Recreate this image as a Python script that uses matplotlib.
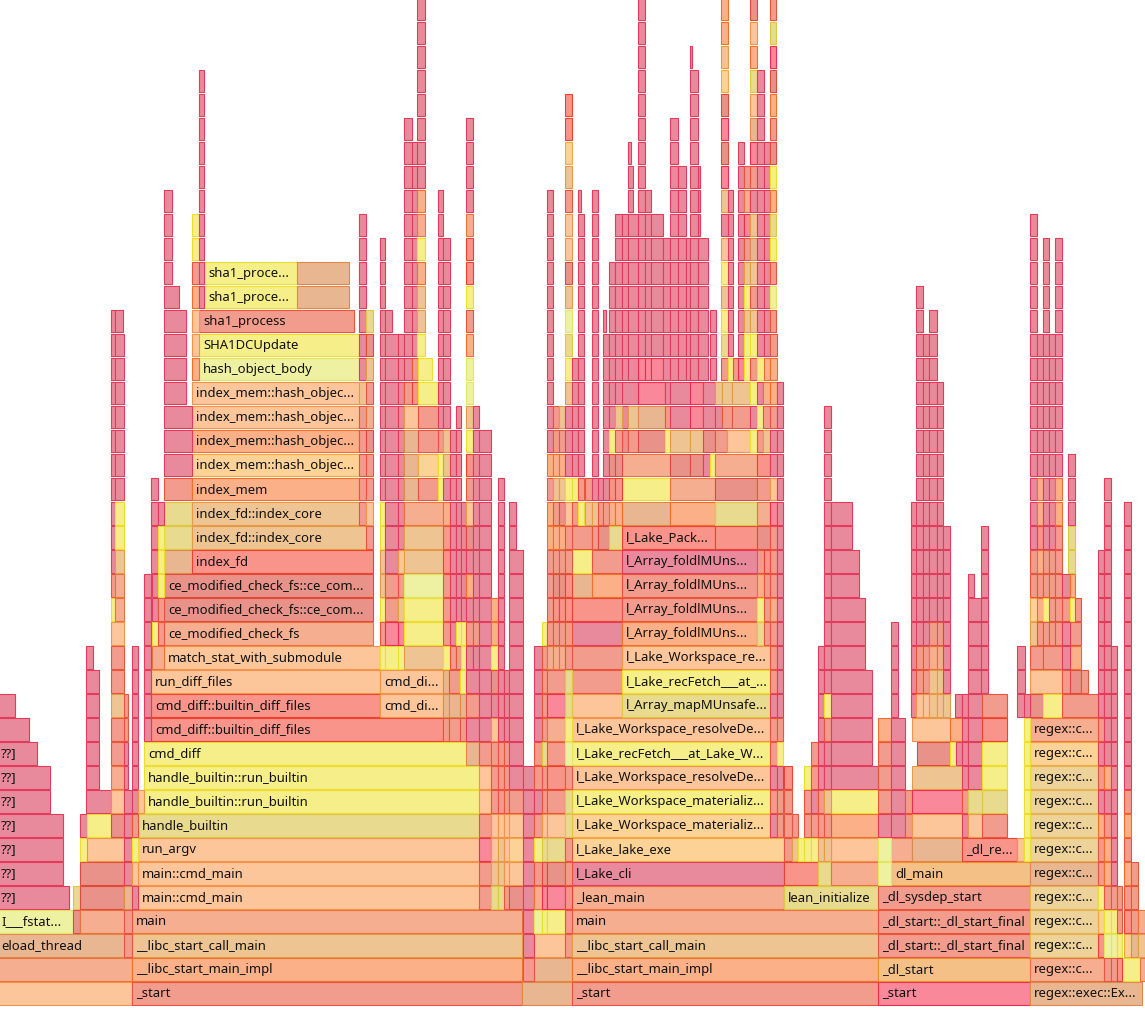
import colorsys
import matplotlib
matplotlib.use("Agg")
from matplotlib import pyplot as plt
from matplotlib import colors as mcolors

# flame graph, zoomed view (x in sample units, depth = stack level)

palette = {
    "p": "#E98A9C", "h": "#F8889A", "s": "#F29C8E", "S": "#F5AE90",
    "r": "#F9948A", "d": "#E8928A", "o": "#FBB088", "O": "#F5C086",
    "c": "#FCC59A", "l": "#FCD296", "t": "#EFC493", "T": "#E9B692",
    "L": "#EDD29A", "y": "#F6EE88", "Y": "#EEF0A2", "k": "#E8DA8E",
}

# (depth, start, end, colour, name)
frames = [
    # threads cut off at the left of the view
    (0, -8, 132, "c", ""),
    (1, -8, 132, "S", ""),
    (2, -8, 124, "T", "eload_thread"),
    (3, -6, 73, "Y", "I___fstat..."),
    (3, 73, 80, "d", ""), (3, 80, 124, "S", ""),
    (4, -8, 69, "p", "??]"), (4, 73, 80, "k", ""), (4, 80, 124, "d", ""),
    (5, -8, 63, "p", "??]"), (5, 80, 124, "d", ""),
    (6, -8, 63, "p", "??]"), (6, 80, 87, "y", ""), (6, 87, 124, "c", ""),
    (7, -8, 63, "p", "??]"), (7, 80, 87, "p", ""), (7, 87, 111, "y", ""), (7, 111, 124, "d", ""),
    (8, -8, 50, "p", "??]"), (8, 86, 111, "p", ""), (8, 111, 124, "c", ""),
    (9, -8, 50, "p", "??]"),
    (10, -8, 37, "p", "??]"),
    (11, -8, 29, "p", ""),
    (12, -8, 15, "p", ""),
    # git diff
    (0, 132, 522, "s", "_start"),
    (1, 132, 522, "o", "__libc_start_main_impl"),
    (2, 132, 522, "t", "__libc_start_call_main"),
    (3, 132, 522, "S", "main"),
    (4, 138, 479, "c", "main::cmd_main"),
    (5, 138, 479, "c", "main::cmd_main"),
    (6, 138, 479, "c", "run_argv"),
    (7, 138, 479, "k", "handle_builtin"),
    (8, 144, 479, "y", "handle_builtin::run_builtin"),
    (9, 144, 479, "y", "handle_builtin::run_builtin"),
    (10, 144, 466, "y", "cmd_diff"),
    (11, 151, 443, "r", "cmd_diff::builtin_diff_files"),
    (12, 151, 380, "r", "cmd_diff::builtin_diff_files"),
    (12, 380, 443, "c", "cmd_di..."),
    (13, 151, 380, "c", "run_diff_files"),
    (13, 380, 443, "c", "cmd_di..."),
    (14, 164, 380, "c", "match_stat_with_submodule"),
    (15, 164, 373, "S", "ce_modified_check_fs"),
    (16, 164, 373, "d", "ce_modified_check_fs::ce_com..."),
    (17, 164, 373, "d", "ce_modified_check_fs::ce_com..."),
    (18, 164, 192, "T", ""), (18, 192, 373, "r", "index_fd"),
    (19, 164, 192, "k", ""), (19, 192, 366, "t", "index_fd::index_core"),
    (20, 164, 192, "k", ""), (20, 192, 359, "t", "index_fd::index_core"),
    (21, 164, 192, "s", ""), (21, 192, 359, "o", "index_mem"),
    (22, 192, 359, "l", "index_mem::hash_objec..."),
    (23, 192, 359, "o", "index_mem::hash_objec..."),
    (24, 192, 359, "c", "index_mem::hash_objec..."),
    (25, 192, 359, "c", "index_mem::hash_objec..."),
    (26, 199, 359, "Y", "hash_object_body"),
    (27, 199, 359, "y", "SHA1DCUpdate"),
    (28, 199, 354, "s", "sha1_process"),
    (29, 204, 297, "y", "sha1_proce..."), (29, 297, 349, "T", ""),
    (30, 204, 297, "y", "sha1_proce..."), (30, 297, 349, "T", ""),
    # lean / lake
    (0, 522, 572, "T", ""),
    (0, 572, 878, "s", "_start"),
    (1, 534, 572, "T", ""),
    (1, 572, 878, "o", "__libc_start_main_impl"),
    (2, 534, 565, "c", ""), (2, 565, 572, "s", ""),
    (2, 572, 878, "t", "__libc_start_call_main"),
    (3, 572, 878, "S", "main"),
    (4, 572, 784, "S", "_lean_main"),
    (4, 784, 878, "k", "lean_initialize"),
    (5, 572, 784, "p", "l_Lake_cli"),
    (5, 784, 818, "r", ""), (5, 818, 831, "k", ""), (5, 831, 878, "S", ""),
    (6, 572, 784, "l", "l_Lake_lake_exe"), (6, 831, 878, "c", ""),
    (7, 572, 770, "l", "l_Lake_Workspace_materializ..."), (7, 831, 878, "o", ""),
    (8, 572, 770, "y", "l_Lake_Workspace_materializ..."), (8, 831, 878, "y", ""),
    (9, 572, 770, "c", "l_Lake_Workspace_resolveDe..."),
    (10, 572, 770, "y", "l_Lake_recFetch___at_Lake_W..."),
    (11, 572, 770, "c", "l_Lake_Workspace_resolveDe..."),
    (12, 572, 622, "c", ""), (12, 622, 770, "k", "l_Array_mapMUnsafe..."),
    (13, 572, 622, "s", ""), (13, 622, 770, "y", "l_Lake_recFetch___at_..."),
    (14, 572, 622, "s", ""), (14, 622, 770, "c", "l_Lake_Workspace_re..."),
    (15, 572, 622, "p", ""), (15, 622, 757, "o", "l_Array_foldlMUns..."),
    (16, 572, 622, "r", ""), (16, 622, 757, "s", "l_Array_foldlMUns..."),
    (17, 572, 592, "T", ""), (17, 592, 622, "o", ""), (17, 622, 757, "s", "l_Array_foldlMUns..."),
    (18, 572, 592, "y", ""), (18, 592, 622, "s", ""), (18, 622, 757, "p", "l_Array_foldlMUns..."),
    (19, 572, 592, "s", ""), (19, 592, 598, "s", ""), (19, 598, 609, "d", ""), (19, 609, 622, "k", ""),
    (19, 622, 715, "r", "l_Lake_Pack..."), (19, 715, 757, "r", ""), (19, 757, 770, "d", ""),
    (20, 622, 670, "T", ""), (20, 670, 715, "o", ""), (20, 715, 757, "k", ""), (20, 757, 770, "S", ""),
    (21, 622, 670, "y", ""), (21, 670, 715, "S", ""), (21, 715, 757, "d", ""), (21, 757, 770, "s", ""),
    (22, 622, 670, "S", ""), (22, 670, 690, "d", ""), (22, 690, 703, "d", ""), (22, 703, 710, "p", ""),
    (22, 710, 715, "y", ""), (22, 715, 757, "S", ""), (22, 757, 770, "r", ""),
    (23, 622, 628, "d", ""), (23, 628, 638, "s", ""), (23, 638, 665, "d", ""), (23, 665, 670, "y", ""),
    (23, 670, 690, "t", ""), (23, 690, 703, "t", ""), (23, 703, 715, "d", ""), (23, 715, 727, "s", ""),
    (23, 727, 750, "c", ""), (23, 750, 757, "y", ""), (23, 757, 763, "s", ""), (23, 763, 770, "t", ""),
    (24, 622, 628, "p", ""), (24, 628, 638, "t", ""), (24, 638, 665, "T", ""), (24, 665, 670, "s", ""),
    (24, 670, 690, "p", ""), (24, 690, 703, "h", ""), (24, 703, 715, "p", ""), (24, 715, 722, "p", ""),
    (24, 722, 732, "s", ""), (24, 732, 750, "s", ""), (24, 750, 757, "p", ""), (24, 757, 763, "y", ""),
    (24, 763, 770, "s", ""),
    (25, 622, 638, "p", ""), (25, 638, 665, "h", ""), (25, 665, 670, "p", ""), (25, 670, 690, "p", ""),
    (25, 690, 703, "h", ""), (25, 703, 715, "p", ""), (25, 715, 722, "t", ""), (25, 722, 732, "t", ""),
    (25, 732, 750, "t", ""), (25, 750, 757, "y", ""), (25, 757, 763, "p", ""), (25, 763, 770, "o", ""),
    # dynamic loader
    (0, 878, 1030, "h", "_start"),
    (1, 878, 1030, "O", "_dl_start"),
    (2, 878, 1030, "s", "_dl_start::_dl_start_final"),
    (3, 878, 1030, "s", "_dl_start::_dl_start_final"),
    (4, 878, 1030, "s", "_dl_sysdep_start"),
    (5, 891, 1030, "O", "dl_main"),
    (6, 891, 912, "S", ""), (6, 912, 962, "T", ""), (6, 962, 1017, "r", "_dl_re..."),
    # regex
    (0, 1030, 1142, "T", "regex::exec::Ex..."),
    (1, 1030, 1104, "S", "regex::c..."),
    (2, 1030, 1098, "L", "regex::c..."),
    (3, 1030, 1098, "L", "regex::c..."),
    (4, 1030, 1098, "L", "regex::c..."),
    (5, 1030, 1098, "T", "regex::c..."),
    (6, 1030, 1098, "L", "regex::c..."),
    (7, 1030, 1098, "L", "regex::c..."),
    (8, 1030, 1098, "L", "regex::c..."),
    (9, 1030, 1098, "L", "regex::c..."),
    (10, 1030, 1098, "l", "regex::c..."),
    (11, 1030, 1098, "S", "regex::c..."),
    (12, 1030, 1043, "d", ""), (12, 1043, 1062, "y", ""), (12, 1062, 1098, "s", ""),
    (13, 1030, 1062, "c", ""), (13, 1062, 1070, "s", ""), (13, 1070, 1081, "d", ""), (13, 1081, 1088, "s", ""),
    (14, 1030, 1043, "s", ""), (14, 1043, 1062, "s", ""), (14, 1070, 1081, "o", ""),
    (15, 1070, 1081, "s", ""),
    (1, 1122, 1140, "y", ""), (1, 1140, 1145, "S", ""),
]

# narrow stacks: (start, end, first depth, colour of each level going up)
stacks = [
    (86, 99, 9, "ppppp"), (86, 93, 14, "p"),
    (111, 124, 9, "Ssstssc"),
    (111, 115, 16, "ys" + "p" * 11),
    (115, 124, 16, "SStyy" + "p" * 7), (115, 123, 28, "p"),
    (124, 132, 2, "ssTpppp"), (124, 128, 9, "ppss"),
    (132, 138, 4, "pcys" + "p" * 7), (138, 144, 8, "c"),
    (144, 151, 11, "p" * 7), (151, 158, 18, "pppp"),
    (152, 164, 14, "S"), (152, 158, 15, "ypp"), (158, 164, 15, "ssyyyp"),
    (164, 192, 22, "ppp"), (164, 186, 25, "pppp"), (164, 179, 29, "p"), (164, 172, 30, "pppp"),
    (192, 199, 26, "occosyy"), (199, 204, 29, "p" * 10),
    (359, 366, 20, "ssssst" + "p" * 7), (366, 373, 19, "scssdSstdk"),
    (380, 385, 14, "ysyttyy" + "p" * 11),
    (385, 398, 14, "yhss" + "p" * 10), (385, 392, 28, "p"),
    (398, 404, 14, "yhtsc" + "p" * 9),
    (404, 443, 14, "tyyYttS"), (404, 418, 21, "TTTc"),
    (404, 412, 25, "s" + "p" * 11), (412, 418, 25, "rs" + "p" * 9),
    (418, 438, 21, "slssy"), (418, 432, 26, "y"),
    (417, 425, 27, "yttoySo" + "p" * 8),
    (438, 443, 21, "yys" + "p" * 10),
    (443, 449, 11, "sTT"), (449, 460, 11, "sTs"), (460, 466, 11, "sTy"),
    (443, 450, 14, "ysssrsopttpp" + "p" * 6),
    (450, 456, 14, "s" + "p" * 9), (456, 461, 14, "sy" + "p" * 9), (461, 466, 14, "yyppppp"),
    (466, 479, 10, "Tpsp"),
    (466, 473, 14, "pspopdcsrytYYosyrrSpppp"), (473, 479, 14, "ps" + "p" * 9),
    (479, 491, 4, "sshsccsppp"), (479, 491, 14, "p" * 10),
    (491, 498, 4, "ktccssscpdyoo"),
    (498, 504, 4, "kttcsss" + "p" * 11),
    (504, 509, 4, "scccsssppp"),
    (509, 523, 4, "dclcs" + "p" * 10), (509, 516, 19, "pp"),
    (523, 534, 1, "spppppppp"),
    (534, 542, 3, "YSsyspsspppp"),
    (542, 547, 3, "yhdkcsskssssy"),
    (547, 565, 3, "yhdkcsrsShs"),
    (565, 572, 3, "srsskksYykk"),
    (547, 553, 14, "Sssssoosoppp" + "p" * 8),
    (553, 559, 14, "Ssrdsostoss"), (559, 565, 14, "Ssrdsodtost"),
    (565, 572, 14, "ssrrsscypppty" + "kYtdccstlrr"),
    (572, 578, 20, "syppppp"),
    (578, 584, 20, "ys" + "p" * 11), (578, 581, 33, "p"),
    (585, 592, 20, "ts"),
    (592, 598, 20, "t" + "p" * 13),
    (598, 603, 20, "sp"),
    (603, 609, 20, "s" + "p" * 7), (603, 606, 28, "p"),
    (609, 615, 20, "ordyppppppp"),
    (615, 622, 20, "ordstp" + "p" * 7),
    (622, 628, 26, "p" * 7), (628, 638, 26, "p" * 7), (628, 633, 33, "pp"), (628, 631, 35, "p"),
    (638, 645, 26, "h" + "p" * 15), (645, 651, 26, "h" + "p" * 7), (651, 663, 26, "h" + "p" * 6),
    (663, 670, 26, "p" * 6), (670, 678, 26, "p" * 11), (678, 686, 26, "p" * 9),
    (686, 690, 26, "p" * 6), (690, 698, 26, "p" * 13), (690, 692, 39, "p"),
    (698, 708, 26, "p" * 6), (698, 700, 32, "ppp"), (710, 716, 26, "ppp"),
    (721, 728, 26, "s" + "kytycpthdhdltoo"),
    (728, 733, 26, "y" + "p" * 7), (733, 738, 26, "s"),
    (738, 744, 26, "h" + "p" * 9), (744, 750, 26, "yytytshSs"),
    (750, 757, 26, "s" + "ytstTtpshTckocd"),
    (757, 764, 15, "kyos"), (764, 770, 15, "sssr"),
    (757, 764, 26, "y" + "p" * 12), (764, 770, 26, "op" + "p" * 8),
    (770, 777, 7, "pspsspsssSssshcppsoos"), (770, 776, 28, "sYsykoydsodhks"),
    (777, 783, 7, "sspys" + "p" * 14),
    (784, 792, 6, "sssr"), (792, 798, 6, "ts"), (798, 804, 6, "y"),
    (804, 811, 6, "yssy"), (811, 818, 6, "yspss"),
    (818, 824, 6, "tss" + "p" * 6), (824, 831, 6, "tstppsy" + "p" * 12),
    (831, 878, 9, "p"), (831, 872, 10, "pppp"), (831, 865, 14, "ppp"),
    (831, 859, 17, "pp"), (831, 852, 19, "pp"),
    (878, 891, 5, "YYpssso"),
    (891, 905, 7, "ppppp"), (891, 898, 12, "pppp"), (905, 912, 7, "ss"),
    (912, 962, 7, "cht"),
    (917, 950, 10, "d"), (950, 956, 10, "y"), (956, 962, 10, "p"),
    (912, 950, 11, "c"), (950, 962, 11, "o"),
    (911, 917, 12, "p" * 9),
    (916, 923, 12, "css" + "p" * 15), (923, 929, 12, "css" + "p" * 13),
    (929, 937, 12, "ttSs" + "p" * 13), (937, 943, 12, "ttSs" + "p" * 10),
    (943, 950, 12, "t" + "p" * 7), (955, 962, 12, "p"),
    (962, 968, 7, "pspppp"),
    (968, 982, 7, "ck" + "p" * 8), (968, 974, 17, "p"),
    (982, 1007, 7, "skyyrs"), (981, 988, 13, "p" * 7),
    (1017, 1024, 6, "c"), (1017, 1025, 12, "ppp"), (1024, 1030, 6, "yyyyyyp"),
    (1098, 1104, 2, "rlyssopspsppppppp"),
    (1104, 1111, 1, "sYysoospopp" + "p" * 10),
    (1111, 1117, 1, "sYys" + "p" * 10),
    (1117, 1122, 1, "ryss"),
    (1124, 1131, 2, "lrsosos" + "p" * 12),
    (1131, 1138, 2, "Tsss"), (1138, 1145, 2, "tS"),
    (1030, 1037, 15, "tlss" + "p" * 14),
    (1037, 1043, 15, "sosoroo" + "p" * 6),
    (1043, 1049, 15, "syss" + "p" * 13),
    (1049, 1055, 15, "ssss" + "p" * 9),
    (1055, 1062, 15, "sssssoo" + "p" * 10),
    (1062, 1070, 14, "ppsp"), (1068, 1075, 18, "kkppp"),
    (1070, 1075, 16, "yo"), (1075, 1081, 16, "s"),
]


def edge_of(hex_colour):
    r, g, b = mcolors.to_rgb(hex_colour)
    h, s, v = colorsys.rgb_to_hsv(r, g, b)
    return colorsys.hsv_to_rgb(h, min(1.0, s * 1.8), min(1.0, v * 0.96))


bars = [(d, a, b, c) for d, a, b, c, _ in frames]
for a, b, d0, cols in stacks:
    for i, c in enumerate(cols):
        bars.append((d0 + i, a, b, c))

fig = plt.figure(figsize=(11.45, 10.10), dpi=100)
ax = fig.add_axes([0, 0, 1, 1])

h = 22.5 / 24
ax.barh([d for d, a, b, c in bars], [b - a for d, a, b, c in bars],
        left=[a for d, a, b, c in bars], height=h, align="edge",
        color=[palette[c] for d, a, b, c in bars],
        edgecolor=[edge_of(palette[c]) for d, a, b, c in bars], linewidth=0.8)

for d, a, b, c, name in frames:
    if name:
        # frames that start left of the view get their label at the view edge
        ax.text(max(a, -3) + 4, d + h / 2, name, va="center", ha="left", fontsize=9.4,
                family=["Noto Sans", "DejaVu Sans"], color="#111111", clip_on=True)

ax.set_xlim(0, 1145)
ax.set_ylim(-5.5 / 24, 1004.5 / 24)
ax.axis("off")
fig.savefig("out.png", dpi=100, facecolor="white")
